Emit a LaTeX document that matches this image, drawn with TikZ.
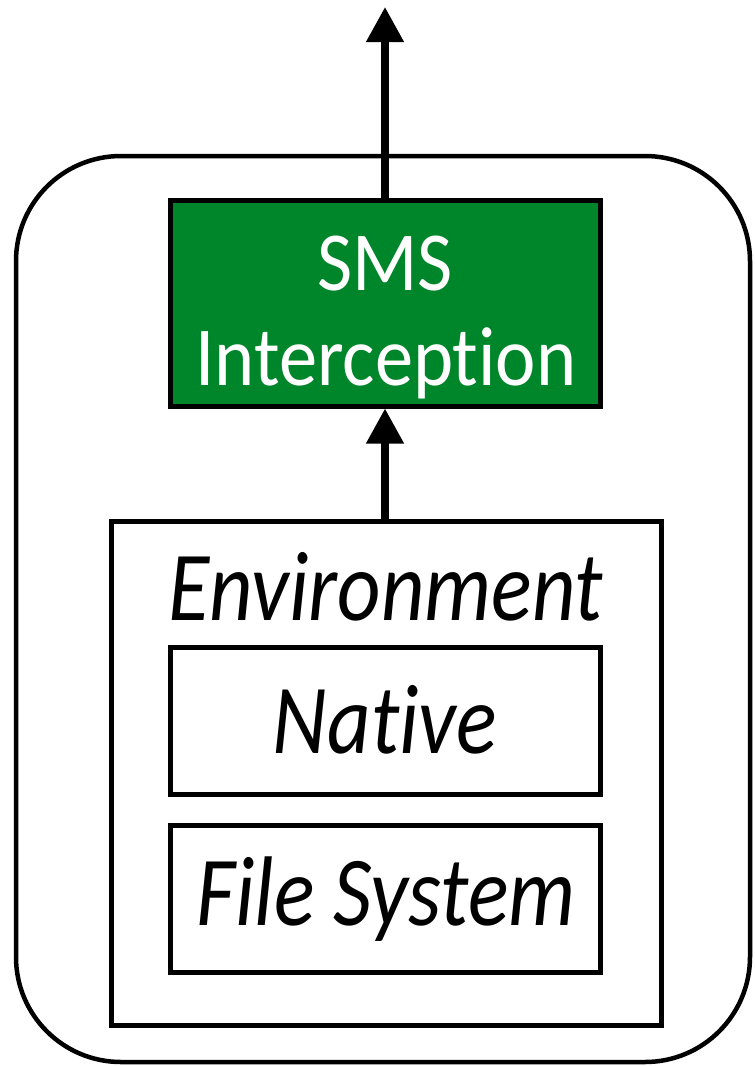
\documentclass[tikz,border=0pt]{standalone}
\usepackage{fontspec}
\usetikzlibrary{arrows.meta}

\newfontfamily\uprightlabel[FakeStretch=0.91,
  Ligatures={NoCommon,NoRequired,NoContextual}]{Carlito}
\newfontfamily\slantlabel[FakeStretch=0.855,
  Ligatures={NoCommon,NoRequired,NoContextual}]{Carlito}

\definecolor{smsgreen}{RGB}{0,134,42}

\tikzset{
  frame/.style={draw=black, line width=4.5pt, rounded corners=105pt,
    inner sep=0pt, outer sep=0pt},
  layerbox/.style={draw=black, line width=5pt, inner sep=0pt},
  flowarrow/.style={draw=black, line width=7.5pt,
    -{Triangle[width=36pt,length=35pt]}},
  whitelabel/.style={anchor=base, inner sep=0pt, text=white,
    font=\uprightlabel\fontsize{84pt}{84pt}\selectfont},
  darklabel/.style={anchor=base, inner sep=0pt, text=black,
    font=\slantlabel\itshape\fontsize{99pt}{99pt}\selectfont},
}

\begin{document}
\begin{tikzpicture}[x=1pt, y=-1pt]
  \useasboundingbox (0,0) rectangle (755,1066);

  % device boundary
  \node[frame, minimum width=734pt, minimum height=906pt] (device) at (383,609) {};

  % interception component
  \node[layerbox, fill=smsgreen, minimum width=430pt, minimum height=206pt] (sms) at (385,303) {};

  % environment with its two layers
  \node[layerbox, minimum width=550pt, minimum height=504pt] (env) at (386,773) {};
  \node[layerbox, minimum width=430pt, minimum height=147pt] (native) at (385,720.5) {};
  \node[layerbox, minimum width=430pt, minimum height=147pt] (files) at (385,898.5) {};

  \node[whitelabel] (smstop) at (385,290) {SMS};
  \node[whitelabel] (smsbottom) at (386,385) {Interception};
  \node[darklabel] (envlabel) at (386,620) {Environment};
  \node[darklabel] (nativelabel) at (385,753) {Native};
  \node[darklabel] (fileslabel) at (386,925) {File System};

  % data flow
  \coordinate (out) at (385,7);
  \draw[flowarrow] (env.north -| sms.south) -- (sms.south);
  \draw[flowarrow] (sms.north) -- (out);
\end{tikzpicture}
\end{document}
